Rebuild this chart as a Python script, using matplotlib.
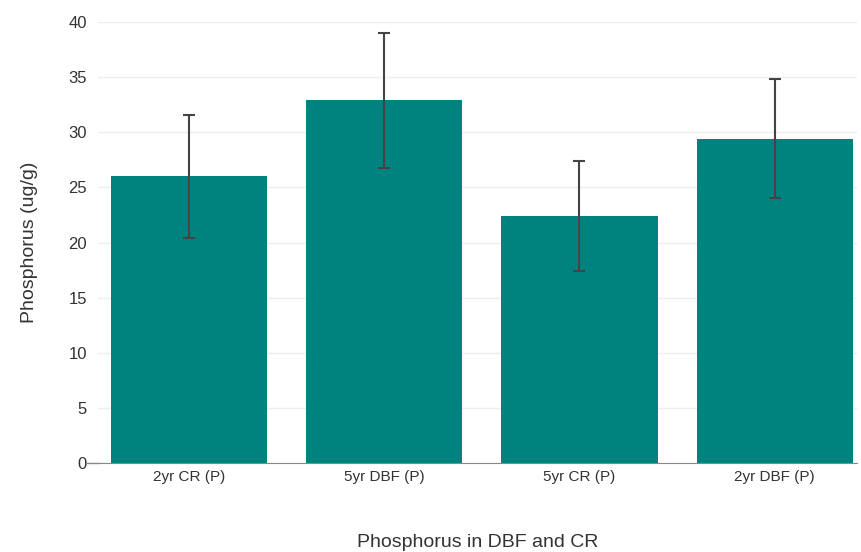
import matplotlib.pyplot as plt

plt.rcParams['font.family'] = ['Liberation Sans', 'DejaVu Sans']

categories = ['2yr CR (P)', '5yr DBF (P)', '5yr CR (P)', '2yr DBF (P)']
means = [26.0, 32.9, 22.4, 29.4]
errors = [5.6, 6.1, 5.0, 5.4]

fig = plt.figure(figsize=(8.61, 5.52), dpi=100)
ax = fig.add_axes([0.114, 0.161, 0.881, 0.799])

x = range(len(categories))
ax.bar(x, means, width=0.8, color='#00827f', zorder=2)
ax.errorbar(x, means, yerr=errors, fmt='none', ecolor='#444444',
            elinewidth=1.5, capsize=4, capthick=1.5, zorder=3)

ax.set_xlim(-0.465, 3.42)
ax.set_ylim(0, 40)
ax.set_yticks(range(0, 41, 5))
ax.set_xticks(list(x))
ax.set_xticklabels(categories, fontsize=11, color='#333333')
ax.tick_params(axis='y', labelsize=12, labelcolor='#333333', length=0, pad=8)
ax.tick_params(axis='x', length=0, pad=5)

ax.grid(axis='y', color='#eeeeee', linewidth=1, zorder=0)
for s in ['top', 'right', 'left']:
    ax.spines[s].set_visible(False)
ax.spines['bottom'].set_color('#888888')
ax.plot([-0.52, -0.465], [0, 0], color='#888888', linewidth=1, clip_on=False)

ax.set_ylabel('Phosphorus (ug/g)', fontsize=14, color='#333333', labelpad=22)
ax.set_xlabel('Phosphorus in DBF and CR', fontsize=14, color='#333333', labelpad=36)

fig.savefig('out.png', dpi=100)
